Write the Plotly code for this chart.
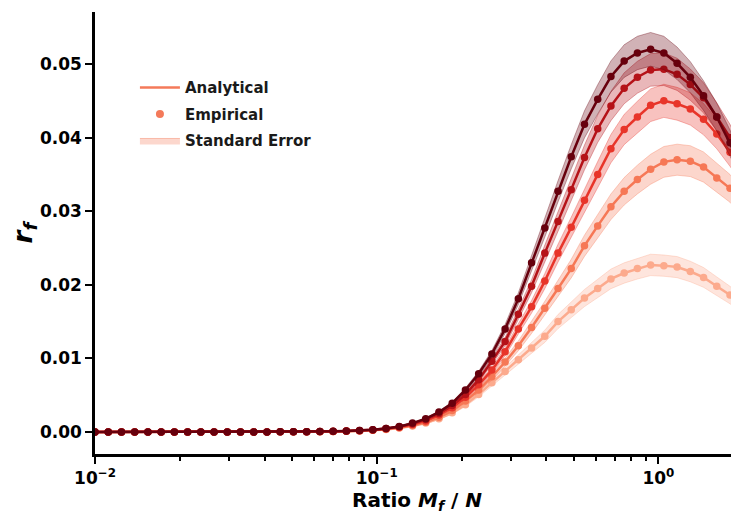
import numpy as np
import plotly.graph_objects as go

# ---- data ----
ratio = np.logspace(-2, np.log10(2), 50)   # sampling grid M_f / N

zeros14 = [0.0] * 14
r_f_1 = zeros14 + [0.00001, 0.00001, 0.00002, 0.00004, 0.00006, 0.00009, 0.00014, 0.00022, 0.00034, 0.00052,
                   0.0008, 0.0012, 0.0018, 0.0026, 0.0037, 0.0051, 0.0067, 0.0082, 0.0098, 0.0114,
                   0.0130, 0.0150, 0.0166, 0.0182, 0.0195, 0.0208, 0.0216, 0.0222, 0.0227, 0.0226,
                   0.0224, 0.0218, 0.0210, 0.0198, 0.0186, 0.0172]
r_f_2 = zeros14 + [0.00001, 0.00002, 0.00003, 0.00004, 0.00006, 0.0001, 0.00015, 0.00024, 0.00037, 0.00057,
                   0.00087, 0.0013, 0.0020, 0.0029, 0.0042, 0.0057, 0.0075, 0.0095, 0.0117, 0.0142,
                   0.0168, 0.0195, 0.0222, 0.0253, 0.0280, 0.0306, 0.0327, 0.0343, 0.0357, 0.0367,
                   0.0370, 0.0368, 0.0360, 0.0345, 0.0331, 0.0310]
r_f_3 = zeros14 + [0.00001, 0.00002, 0.00003, 0.00005, 0.00007, 0.00011, 0.00017, 0.00027, 0.00042, 0.00065,
                   0.0010, 0.0015, 0.0023, 0.0033, 0.0047, 0.0064, 0.0084, 0.0109, 0.0140, 0.0170,
                   0.0205, 0.0243, 0.0278, 0.0315, 0.0350, 0.0385, 0.0411, 0.0428, 0.0444, 0.0450,
                   0.0446, 0.0439, 0.0425, 0.0405, 0.0380, 0.0352]
r_f_4 = zeros14 + [0.00001, 0.00002, 0.00003, 0.00005, 0.00008, 0.00012, 0.00019, 0.00029, 0.00045, 0.0007,
                   0.0011, 0.0017, 0.0025, 0.0036, 0.0051, 0.0071, 0.0096, 0.0123, 0.0160, 0.0198,
                   0.0243, 0.0286, 0.0329, 0.0373, 0.0412, 0.0443, 0.0467, 0.0482, 0.0492, 0.0493,
                   0.0486, 0.0472, 0.0454, 0.0428, 0.0400, 0.0366]
r_f_5 = zeros14 + [0.00001, 0.00002, 0.00003, 0.00005, 0.00008, 0.00013, 0.0002, 0.0003, 0.00048, 0.00075,
                   0.0012, 0.0018, 0.0027, 0.0039, 0.0057, 0.0079, 0.0106, 0.0140, 0.0181, 0.0230,
                   0.0277, 0.0327, 0.0374, 0.0418, 0.0452, 0.0483, 0.0504, 0.0515, 0.0520, 0.0515,
                   0.0501, 0.0482, 0.0457, 0.0428, 0.0393, 0.0356]
series = [r_f_1, r_f_2, r_f_3, r_f_4, r_f_5]
se_frac = [0.064, 0.057, 0.050, 0.045, 0.044]        # relative standard error per series

colors = [(252, 170, 141), (246, 120, 86), (232, 53, 42), (181, 18, 24), (103, 0, 13)]
legend_rgb = (244, 122, 90)

x_tickvals = [0.01, 0.1, 1]
x_ticktext = ["10<sup>−2</sup>", "10<sup>−1</sup>", "10<sup>0</sup>"]
x_minor = [0.02, 0.03, 0.04, 0.05, 0.06, 0.07, 0.08, 0.09,
           0.2, 0.3, 0.4, 0.5, 0.6, 0.7, 0.8, 0.9, 2]
y_tickvals = [0.00, 0.01, 0.02, 0.03, 0.04, 0.05]


def rgba(c, a):
    return f"rgba({c[0]},{c[1]},{c[2]},{a})"


FONT = "DejaVu Sans"
fig = go.Figure()

for vals, frac, c in zip(series, se_frac, colors):
    v = np.array(vals)
    upper = v * (1 + frac)
    lower = v * (1 - frac)
    fig.add_trace(go.Scatter(
        x=np.concatenate([ratio, ratio[::-1]]),
        y=np.concatenate([upper, lower[::-1]]),
        fill="toself", fillcolor=rgba(c, 0.3),
        line=dict(color=rgba(c, 0.35), width=1),
        mode="lines", hoverinfo="skip", showlegend=False))
    fig.add_trace(go.Scatter(
        x=ratio, y=v, mode="lines",
        line=dict(color=rgba(c, 1), width=2.5),
        showlegend=False))
    fig.add_trace(go.Scatter(
        x=ratio, y=v, mode="markers",
        marker=dict(color=rgba(c, 1), size=7.5, line=dict(width=0)),
        showlegend=False))

# legend entries
fig.add_trace(go.Scatter(x=[None], y=[None], mode="lines", name="Analytical",
                         legendgroup="a",
                         line=dict(color=rgba(legend_rgb, 1), width=2.5)))
fig.add_trace(go.Scatter(x=[None], y=[None], mode="markers", name="Empirical",
                         legendgroup="b",
                         marker=dict(color=rgba(legend_rgb, 1), size=8)))
fig.add_trace(go.Scatter(x=[None], y=[None], mode="lines", name="Standard Error",
                         legendgroup="c",
                         fill="toself", fillcolor=rgba(legend_rgb, 0.3),
                         line=dict(color=rgba(legend_rgb, 0.45), width=1)))

# the page body adds an 8px margin, so the figure is 8px smaller on each side
fig.update_layout(
    width=731, height=511,
    margin=dict(l=87, r=0, t=4, b=65),
    paper_bgcolor="white", plot_bgcolor="white",
    font=dict(family=FONT, color="black"),
    legend=dict(x=0.062, y=0.866, xanchor="left", yanchor="top",
                bgcolor="rgba(255,255,255,0)",
                font=dict(family=FONT, size=15, weight="bold", color="#1a1a1a"),
                itemwidth=40, tracegroupgap=4),
    xaxis=dict(
        type="log", range=[-2, 0.286], automargin=False,
        tickvals=x_tickvals, ticktext=x_ticktext,
        ticks="outside", ticklen=7, tickwidth=2, tickcolor="black",
        minor=dict(tickvals=x_minor, ticks="outside", ticklen=4.5, tickwidth=1.5, tickcolor="black"),
        showline=True, linecolor="black", linewidth=2.5,
        showgrid=False, zeroline=False,
        tickfont=dict(family=FONT, size=17, weight="bold", color="black"),
        title=dict(text="Ratio <i>M<sub>f</sub></i> / <i>N</i>",
                   font=dict(family=FONT, size=20, weight="bold", color="black"),
                   standoff=4),
    ),
    yaxis=dict(
        range=[-0.0030, 0.05707], automargin=False,
        tickvals=y_tickvals, tickformat=".2f",
        ticks="outside", ticklen=7, tickwidth=2, tickcolor="black",
        showline=True, linecolor="black", linewidth=2.5,
        showgrid=False, zeroline=False,
        tickfont=dict(family=FONT, size=17, weight="bold", color="black"),
        title=dict(text="<i>r<sub>f</sub></i>",
                   font=dict(family=FONT, size=26, weight="bold", color="black"),
                   standoff=10),
    ),
)

fig.write_html("out.html")
